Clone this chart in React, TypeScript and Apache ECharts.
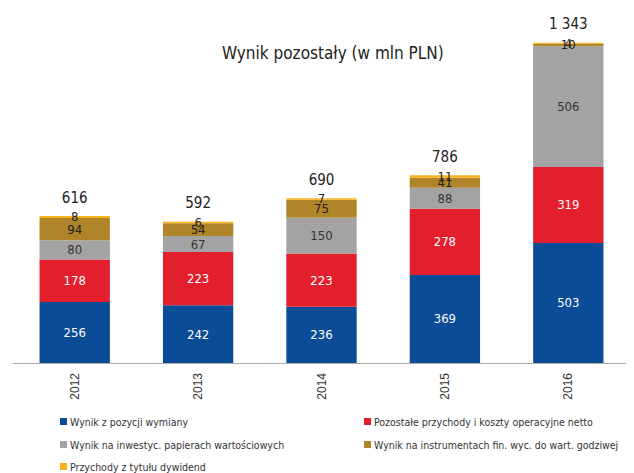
import React, { useEffect, useRef } from "react";
import * as echarts from "echarts";

const years = ["2012", "2013", "2014", "2015", "2016"];
const wymiana = [256, 242, 236, 369, 503];
const pozostale = [178, 223, 223, 278, 319];
const papiery = [80, 67, 150, 88, 506];
const instrumenty = [94, 54, 75, 41, 10];
const dywidendy = [8, 6, 7, 11, 4];
const totals = [616, 592, 690, 786, 1343];

const names = [
  "Wynik z pozycji wymiany",
  "Pozostałe przychody i koszty operacyjne netto",
  "Wynik na inwestyc. papierach wartościowych",
  "Wynik na instrumentach fin. wyc. do wart. godziwej",
  "Przychody z tytułu dywidend",
];
const colors = ["#0b4c96", "#e41f2d", "#a3a3a3", "#b08428", "#f7b21c"];
const labelColors = ["#ffffff", "#ffffff", "#333333", "#222222", "#222222"];

const fmt = (v: number) => String(v).replace(/\B(?=(\d{3})+(?!\d))/g, " ");

const narrow = "'DejaVu Sans Condensed', sans-serif";

const legendPos = [
  [60, 416],
  [364, 416],
  [60, 439],
  [364, 439],
  [60, 461],
];

export default function App() {
  const ref = useRef<HTMLDivElement>(null);
  useEffect(() => {
    const chart = echarts.init(ref.current!, undefined, { renderer: "svg" });
    const datasets = [wymiana, pozostale, papiery, instrumenty, dywidendy];
    const series: any[] = datasets.map((d, i) => ({
      name: names[i],
      type: "bar",
      stack: "a",
      data: d,
      barCategoryGap: "43%",
      itemStyle: { color: colors[i] },
      label: {
        show: true,
        position: "inside",
        color: labelColors[i],
        fontSize: 13,
        fontFamily: narrow,
      },
    }));
    series.push({
      name: "total",
      type: "bar",
      stack: "a",
      data: years.map(() => 0),
      itemStyle: { color: "transparent" },
      label: {
        show: true,
        position: "top",
        distance: 11,
        color: "#222",
        fontSize: 15,
        fontFamily: narrow,
        formatter: (p: any) => fmt(totals[p.dataIndex]),
      },
    });
    chart.setOption({
      animation: false,
      title: {
        text: "Wynik pozostały (w mln PLN)",
        left: 217,
        top: 39,
        textStyle: {
          fontSize: 17,
          fontWeight: "normal",
          color: "#222",
          fontFamily: narrow,
        },
      },
      grid: { left: 13, right: 4, top: 29, bottom: 110 },
      legend: legendPos.map((p, i) => ({
        left: p[0],
        top: p[1],
        itemWidth: 7,
        itemHeight: 7,
        itemGap: 4,
        icon: "rect",
        padding: 0,
        data: [names[i]],
        textStyle: { fontSize: 10.5, color: "#333", fontFamily: narrow, padding: [0, 0, 0, -2] },
      })),
      xAxis: {
        type: "category",
        data: years,
        axisLine: { lineStyle: { color: "#aaaaaa" } },
        axisTick: { show: false },
        axisLabel: {
          rotate: 90,
          color: "#333",
          fontSize: 12,
          margin: 10,
          fontFamily: "Liberation Sans",
        },
      },
      yAxis: {
        type: "value",
        min: 0,
        max: 1400,
        show: false,
        splitLine: { show: false },
      },
      series,
    });
    return () => chart.dispose();
  }, []);
  return <div ref={ref} style={{ width: 634, height: 473, marginLeft: -8, marginTop: -8 }} />;
}
